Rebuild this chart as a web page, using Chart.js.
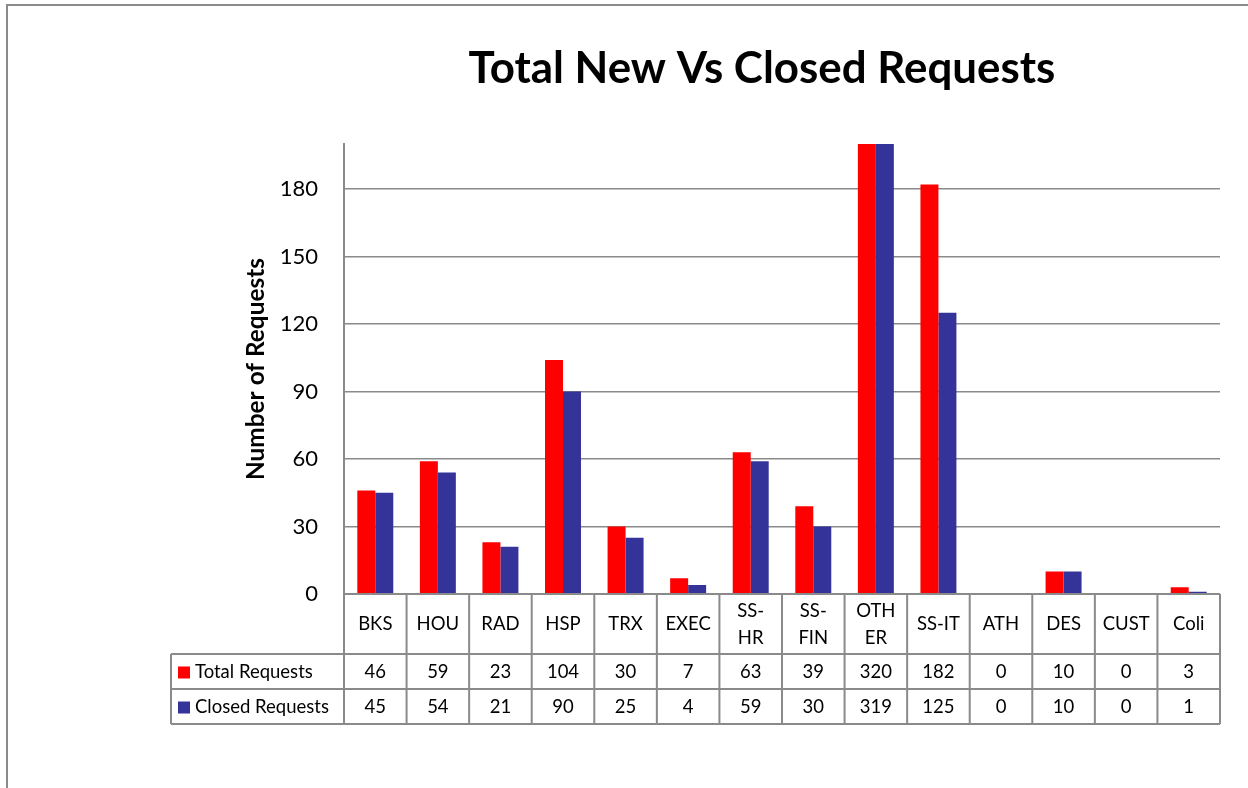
<!DOCTYPE html>
<html>
<head>
<meta charset="utf-8">
<title>Total New Vs Closed Requests</title>
<script src="https://cdn.jsdelivr.net/npm/chart.js"></script>
<style>
  html, body { margin: 0; padding: 0; background: #fff; }
  #wrap { position: relative; width: 1248px; height: 788px; }
  #frame { position: absolute; left: 6px; top: 4px; right: 0; bottom: 0;
           border-top: 2px solid #8a8a8a; border-left: 2px solid #8a8a8a; }
  canvas { position: absolute; left: 0; top: 0; }
</style>
</head>
<body>
<div id="wrap">
  <div id="frame"></div>
  <canvas id="chart" width="1248" height="788"></canvas>
</div>
<script>
// Chart data
const chartTitle = 'Total New Vs Closed Requests';
const yTitle = 'Number of Requests';
const categories = ['BKS', 'HOU', 'RAD', 'HSP', 'TRX', 'EXEC', ['SS-', 'HR'], ['SS-', 'FIN'], ['OTH', 'ER'], 'SS-IT', 'ATH', 'DES', 'CUST', 'Coli'];
const totalRequests = [46, 59, 23, 104, 30, 7, 63, 39, 320, 182, 0, 10, 0, 3];
const closedRequests = [45, 54, 21, 90, 25, 4, 59, 30, 319, 125, 0, 10, 0, 1];
const seriesNames = ['Total Requests', 'Closed Requests'];
const seriesColors = ['#ff0000', '#333399'];
const yMax = 200;
const yStep = 30;

const FONT = 'Lato, "Liberation Sans", sans-serif';
const GRID = '#8a8a8a';

// shrink / grow a font until the text spans the wanted width
function fitFont(ctx, text, weight, width) {
    let size = 40;
    ctx.font = `${weight} ${size}px ${FONT}`;
    size = size * width / ctx.measureText(text).width;
    return size;
}

const tablePlugin = {
    id: 'dataTable',
    afterDraw(chart) {
        const ctx = chart.ctx;
        const xs = chart.scales.x;
        const area = chart.chartArea;
        const colW = (area.right - area.left) / categories.length;
        const rowTop = area.bottom;
        const headBottom = rowTop + 60;
        const rowH = 35;
        const tableBottom = headBottom + rowH * 2;
        const legendLeft = 171;

        ctx.save();
        ctx.strokeStyle = GRID;
        ctx.lineWidth = 2;

        // horizontal lines
        ctx.beginPath();
        ctx.moveTo(area.left, rowTop); ctx.lineTo(area.right, rowTop);
        for (let r = 0; r <= 2; r++) {
            const y = headBottom + r * rowH;
            ctx.moveTo(legendLeft, y); ctx.lineTo(area.right, y);
        }
        // vertical lines
        for (let i = 0; i <= categories.length; i++) {
            const x = area.left + i * colW;
            ctx.moveTo(x, rowTop); ctx.lineTo(x, tableBottom);
        }
        ctx.moveTo(legendLeft, headBottom); ctx.lineTo(legendLeft, tableBottom);
        ctx.stroke();

        // category labels
        ctx.fillStyle = '#000';
        ctx.textAlign = 'center';
        ctx.textBaseline = 'middle';
        ctx.font = `18.5px ${FONT}`;
        categories.forEach((cat, i) => {
            const cx = xs.getPixelForValue(i);
            if (Array.isArray(cat)) {
                ctx.fillText(cat[0], cx, rowTop + 17);
                ctx.fillText(cat[1], cx, rowTop + 44);
            } else {
                ctx.fillText(cat, cx, rowTop + 30);
            }
        });

        // values
        [totalRequests, closedRequests].forEach((vals, r) => {
            const cy = headBottom + r * rowH + rowH / 2 + 1;
            vals.forEach((v, i) => {
                ctx.fillText(String(v), xs.getPixelForValue(i), cy);
            });
            // legend key + name
            ctx.fillStyle = seriesColors[r];
            ctx.fillRect(178, cy - 6, 12, 12);
            ctx.fillStyle = '#000';
            ctx.textAlign = 'left';
            ctx.fillText(seriesNames[r], 195, cy);
            ctx.textAlign = 'center';
        });

        // chart title
        const ts = fitFont(ctx, chartTitle, 'bold', 587);
        ctx.font = `bold ${ts}px ${FONT}`;
        ctx.textBaseline = 'alphabetic';
        ctx.fillText(chartTitle, 762, 83);

        // y axis title
        const ys = fitFont(ctx, yTitle, 'bold', 222);
        ctx.font = `bold ${ys}px ${FONT}`;
        ctx.translate(256, (area.top + area.bottom) / 2);
        ctx.rotate(-Math.PI / 2);
        ctx.textBaseline = 'middle';
        ctx.fillText(yTitle, 0, 0);
        ctx.restore();
    }
};

new Chart(document.getElementById('chart'), {
    type: 'bar',
    data: {
        labels: categories,
        datasets: [
            { label: seriesNames[0], data: totalRequests, backgroundColor: seriesColors[0] },
            { label: seriesNames[1], data: closedRequests, backgroundColor: seriesColors[1] }
        ]
    },
    options: {
        responsive: false,
        animation: false,
        devicePixelRatio: 1,
        layout: { padding: { left: 0, right: 28, top: 144, bottom: 194 } },
        categoryPercentage: 0.575,
        barPercentage: 1,
        plugins: {
            legend: { display: false },
            title: { display: false },
            tooltip: { enabled: false }
        },
        scales: {
            x: { display: false },
            y: {
                min: 0,
                max: yMax,
                afterFit(scale) { scale.width = 344; },
                border: { display: true, color: GRID, width: 2 },
                grid: { color: GRID, lineWidth: 1.5, drawTicks: false },
                ticks: {
                    stepSize: yStep,
                    includeBounds: false,
                    padding: 26,
                    color: '#000',
                    font: { family: FONT, size: 22 }
                }
            }
        }
    },
    plugins: [tablePlugin]
});
</script>
</body>
</html>
